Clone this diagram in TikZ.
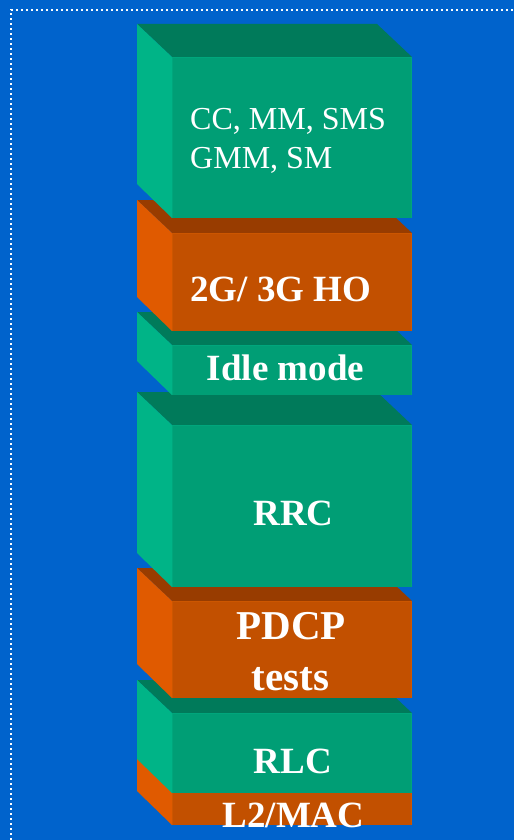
\documentclass[tikz,border=0pt]{standalone}
\usepackage{fontspec}
\setmainfont{Liberation Serif}
\definecolor{bgblue}{RGB}{0,99,204}
\definecolor{gfront}{RGB}{0,158,117}
\definecolor{gtop}{RGB}{0,122,90}
\definecolor{gleft}{RGB}{0,180,135}
\definecolor{gedge}{RGB}{0,166,124}
\definecolor{ofront}{RGB}{194,80,0}
\definecolor{otop}{RGB}{152,60,0}
\definecolor{oleft}{RGB}{224,90,0}
\definecolor{oedge}{RGB}{204,86,0}
\tikzset{
  lbl/.style={text=white,inner sep=0pt},
  reg/.style={lbl,font=\fontsize{32}{38}\selectfont,anchor=base west},
  bld/.style={lbl,font=\fontsize{37}{44}\bfseries\selectfont,anchor=base},
  bldbig/.style={lbl,font=\fontsize{41}{48}\bfseries\selectfont,anchor=base},
  border/.style={white,line width=2pt,dash pattern=on 2pt off 3pt}
}
% \layerbox{top y}{front bottom y}{front}{top}{left}{edge}
\newcommand{\layerbox}[6]{%
  \fill[#4] (137,#1) -- (377,#1) -- (412,#1+33) -- (172,#1+33) -- cycle;
  \fill[#5] (137,#1) -- (172,#1+33) -- (172,#2) -- (137,#2-34) -- cycle;
  \fill[#3] (172,#1+33) rectangle (412,#2);
  \draw[#6,line width=1.2pt] (172.6,#2) -- (172.6,#1+33.6) -- (411.4,#1+33.6) -- (411.4,#2);
}
\begin{document}
\begin{tikzpicture}[x=1pt,y=-1pt]
\useasboundingbox (0,0) rectangle (514,840);
\fill[bgblue] (0,0) rectangle (514,840);
\begin{scope}
\clip (0,0) rectangle (514,840);
\draw[border] (11,850) -- (11,10) -- (530,10);
\end{scope}
% layers, drawn bottom first
\layerbox{740}{825}{ofront}{otop}{oleft}{oedge}
\layerbox{680}{793}{gfront}{gtop}{gleft}{gedge}
\layerbox{568}{698}{ofront}{otop}{oleft}{oedge}
\layerbox{392}{587}{gfront}{gtop}{gleft}{gedge}
\layerbox{312}{395}{gfront}{gtop}{gleft}{gedge}
\layerbox{200}{331}{ofront}{otop}{oleft}{oedge}
\layerbox{24}{218}{gfront}{gtop}{gleft}{gedge}
% labels
\node[reg] (cc1) at (190,130) {CC, MM, SMS};
\node[reg] (cc2) at (190,168) {GMM, SM};
\node[bld,anchor=base west] (ho) at (190,301) {2G/ 3G HO};
\node[bld] (idle) at (285.5,380) {Idle mode};
\node[bld] (rrc) at (293.5,525) {RRC};
\node[bldbig] (pdcp) at (291,639) {PDCP};
\node[bldbig] (tests) at (290.5,690) {tests};
\node[bld] (rlc) at (293,773) {RLC};
\node[bld] (mac) at (293.5,827) {L2/MAC};
\end{tikzpicture}
\end{document}
